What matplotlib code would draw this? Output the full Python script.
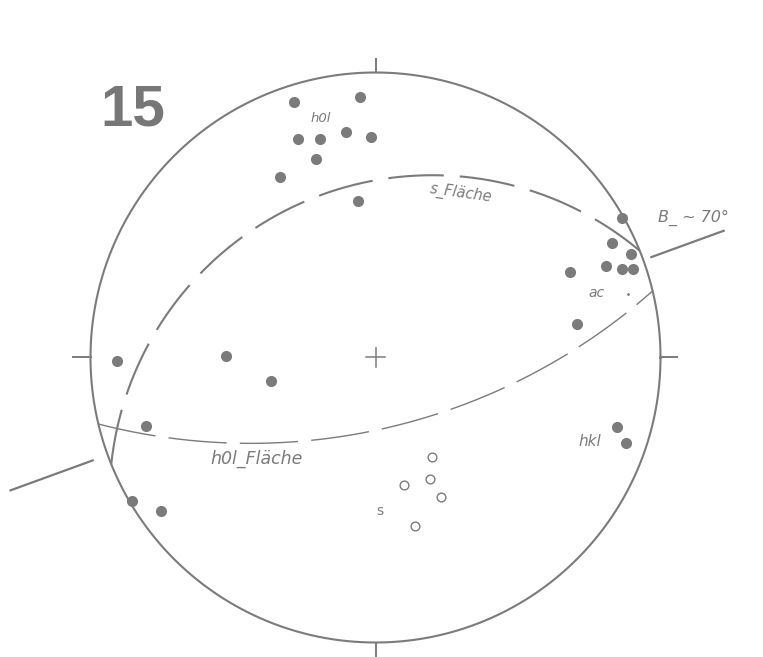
import numpy as np
import matplotlib
matplotlib.use("Agg")
import matplotlib.pyplot as plt

plt.rcParams["lines.scale_dashes"] = False

# Poles (trend, plunge in degrees), lower-hemisphere stereographic net
h0l_trend = [342.3, 356.7, 340.6, 345.8, 352.5, 358.7, 343.4, 332.1, 353.7]
h0l_plunge = [3.5, 5.0, 11.7, 13.2, 12.9, 14.6, 17.9, 18.8, 32.2]

ac_trend = [60.6, 64.2, 67.9, 68.4, 70.3, 71.0, 66.3, 80.6]
ac_plunge = [0.3, 4.7, 2.0, 8.0, 4.8, 2.6, 16.6, 18.8]

hkl_trend = [106.1, 108.9]
hkl_plunge = [7.1, 4.3]

other_trend = [269.3, 253.4, 239.5, 234.5, 270.6, 257.5]
other_plunge = [5.5, 9.9, 0.5, 4.4, 34.5, 48.7]

s_trend = [150.3, 167.4, 155.9, 154.9, 166.8]
s_plunge = [46.1, 40.7, 39.8, 33.3, 27.5]

ac_point_trend = [75.8]
ac_point_plunge = [5.1]

# Planes: dip direction, dip
s_plane = (338.0, 28.0)
h0l_plane = (166.5, 62.0)

# B axis trend
b_trend = 70.0

GRAY = "#7b7b7b"


def project(trend, plunge):
    t = np.radians(np.asarray(trend, dtype=float))
    p = np.radians(np.asarray(plunge, dtype=float))
    n = np.cos(p) * np.cos(t)
    e = np.cos(p) * np.sin(t)
    d = np.sin(p)
    return e / (1 + d), n / (1 + d)


def great_circle(dipdir, dip, n=400):
    dd = np.radians(dipdir)
    dp = np.radians(dip)
    st = dd - np.pi / 2
    t = np.linspace(0, np.pi, n)
    sv = np.array([np.cos(st), np.sin(st), 0.0])
    dv = np.array([np.cos(dd) * np.cos(dp), np.sin(dd) * np.cos(dp), np.sin(dp)])
    v = np.outer(np.cos(t), sv) + np.outer(np.sin(t), dv)
    x = v[:, 1] / (1 + v[:, 2])
    y = v[:, 0] / (1 + v[:, 2])
    return x, y


W, H = 763, 657
cx, cy, R = 375.5, 357.5, 285.0
fig = plt.figure(figsize=(W / 100, H / 100), dpi=100)
ax = fig.add_axes([0, 0, 1, 1])
ax.set_xlim(-cx / R, (W - cx) / R)
ax.set_ylim(-(H - cy) / R, cy / R)
ax.set_aspect("equal")
ax.axis("off")

# Primitive circle
a = np.linspace(0, 2 * np.pi, 720)
ax.plot(np.cos(a), np.sin(a), color=GRAY, lw=1.5)

# N/E/S/W ticks
for ang, ln in [(0, 1.047), (90, 1.057), (180, 1.06), (270, 1.063)]:
    r = np.radians(ang)
    ax.plot([np.sin(r) * 1.0, np.sin(r) * ln], [np.cos(r) * 1.0, np.cos(r) * ln],
            color=GRAY, lw=1.4)

# Centre cross
ax.plot([-0.035, 0.035], [0, 0], color=GRAY, lw=1.1)
ax.plot([0, 0], [-0.035, 0.035], color=GRAY, lw=1.1)

# Great circles
x, y = great_circle(*s_plane)
ax.plot(x, y, color=GRAY, lw=1.5, dashes=[40, 11.5])
x, y = great_circle(*h0l_plane)
ax.plot(x[::-1], y[::-1], color=GRAY, lw=1.0, dashes=[42, 9.5])

# B axis trace outside the net
bt = np.radians(b_trend)
ax.plot([1.03 * np.sin(bt), 1.30 * np.sin(bt)], [1.03 * np.cos(bt), 1.30 * np.cos(bt)],
        color=GRAY, lw=1.6)
ax.plot([-1.056 * np.sin(bt), -1.363 * np.sin(bt)], [-1.056 * np.cos(bt), -1.363 * np.cos(bt)],
        color=GRAY, lw=1.6)

# Poles
for tr, pl in [(h0l_trend, h0l_plunge), (ac_trend, ac_plunge),
               (hkl_trend, hkl_plunge), (other_trend, other_plunge)]:
    px, py = project(tr, pl)
    ax.plot(px, py, "o", ms=8, color=GRAY, mec="none")
px, py = project(s_trend, s_plunge)
ax.plot(px, py, "o", ms=6.3, mfc="white", mec=GRAY, mew=1.0)
px, py = project(ac_point_trend, ac_point_plunge)
ax.plot(px, py, "o", ms=2, color=GRAY, mec="none")

# Labels
tkw = dict(color=GRAY, ha="center", va="center", family="DejaVu Sans", style="italic")
ax.text(-0.850, 0.865, "15", color="#777777", ha="center", va="center",
        family="Liberation Sans", weight="bold", fontsize=42)
ax.text(-0.191, 0.837, "h0l", fontsize=9.5, **tkw)
ax.text(0.300, 0.577, "s_Fläche", fontsize=10.5, rotation=-8, **tkw)
ax.text(1.114, 0.489, "B_ ∼ 70°", fontsize=11.5, **tkw)
ax.text(0.777, 0.226, "ac", fontsize=10, **tkw)
ax.text(0.753, -0.296, "hkl", fontsize=11, **tkw)
ax.text(-0.416, -0.356, "h0l_Fläche", fontsize=12.5, **tkw)
ax.text(0.016, -0.539, "s", color=GRAY, ha="center", va="center", family="DejaVu Sans",
        fontsize=10)

fig.savefig("out.png", dpi=100, facecolor="white")
